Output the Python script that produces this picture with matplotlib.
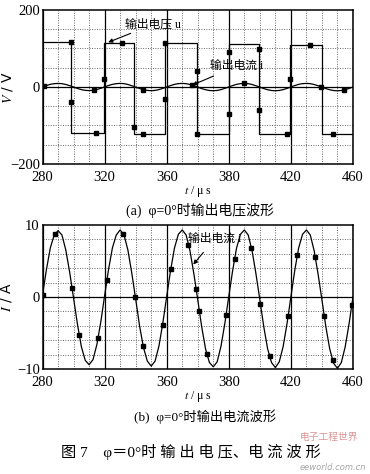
import matplotlib
matplotlib.use('Agg')
import matplotlib.pyplot as plt
import numpy as np

plt.rcParams['mathtext.fontset'] = 'stix'
serif_cjk = ['Liberation Serif', 'Noto Sans CJK SC']

# time axis (us), 2.5 us steps for the current trace
t = np.arange(280, 480.1, 2.5)
current = [
    0.3, 3.8, 6.8, 8.6, 9.2, 8.6, 6.5, 3.4, -0.2, -3.8, -6.9, -8.8, -9.4, -8.7, -6.6, -3.5,
    0.2, 3.8, 6.8, 8.6, 9.3, 8.6, 6.5, 3.3, -0.3, -4.0, -7.0, -8.9, -9.6, -8.9, -6.8, -3.6,
    0.1, 3.7, 6.8, 8.7, 9.3, 8.6, 6.4, 3.2, -0.4, -4.1, -7.2, -9.1, -9.7, -9.0, -6.8, -3.6,
    0.1, 3.7, 6.8, 8.7, 9.3, 8.6, 6.4, 3.2, -0.4, -4.1, -7.2, -9.1, -9.8, -9.0, -6.9, -3.7,
    0.0, 3.7, 6.8, 8.7, 9.3, 8.6, 6.4, 3.2, -0.4, -4.1, -7.2, -9.2, -9.9, -9.1, -6.9, -3.7,
    0.0,
]

# square-wave output voltage: switching instants and levels
v_switch = [280, 298.4, 319.5, 338.6, 359, 379.5, 400.3, 419.3, 439.4, 459.8, 480]
v_level = [116, -120, 113, -121, 113, -122, 111, -123, 110, -123, -123]

# marker squares
vmark_t = [298.4, 298.4, 314.5, 319.5, 331, 338.6, 344.5, 359, 359, 379.5, 379.5,
           400.3, 400.3, 419.3, 419.3, 437.5, 439.4, 452, 467]
vmark_v = [116, -40, -120, 21, 113, -104, -121, 113, -30, 41, -121,
           90, -69, 99, -60, -123, 21, 110, -123]
imark_top_t = [281, 313, 345, 376, 410, 459.7, 474]
imark_t = [280, 288, 299, 303.7, 315.7, 321.5, 331.9, 339.8, 344.8, 357.3, 362.7, 374,
           379, 381, 385.9, 398.2, 403.8, 414.6, 420.4, 426.3, 438.2, 444.2, 455.7,
           461.5, 466.9, 479.2]

xticks = [280, 320, 360, 400, 440, 480]
xticklabels = ['280', '320', '360', '380', '420', '460']

fig = plt.figure(figsize=(3.7, 4.74), dpi=100)
ax1 = fig.add_axes([0.115, 0.654, 0.839, 0.325])
ax2 = fig.add_axes([0.115, 0.2215, 0.839, 0.304])


def style(ax, ylim, ystep, yticks):
    ax.set_xlim(280, 480)
    ax.set_ylim(*ylim)
    ax.set_xticks(xticks)
    ax.set_xticklabels(xticklabels)
    ax.set_xticks(np.arange(280, 481, 10), minor=True)
    ax.set_yticks(yticks)
    ax.set_yticks(np.arange(ylim[0], ylim[1] + 0.01, ystep), minor=True)
    ax.grid(which='minor', ls=(0, (1, 1.5)), color='0.4', lw=0.7)
    ax.grid(which='major', axis='x', ls='-', color='k', lw=0.9)
    ax.axhline(0, color='k', lw=0.9)
    ax.tick_params(which='both', length=0, labelsize=10.5)
    ax.tick_params(axis='x', pad=5)
    ax.tick_params(axis='y', pad=2)
    for lab in ax.get_xticklabels() + ax.get_yticklabels():
        lab.set_family('Liberation Serif')
    for s in ax.spines.values():
        s.set_linewidth(1.1)
    ax.set_axisbelow(True)


# (a) voltage + current
style(ax1, (-200, 200), 50, [-200, 0, 200])
ax1.step(v_switch, v_level, where='post', color='k', lw=0.9)
ax1.plot(t, current, color='k', lw=0.9)
ax1.plot(vmark_t, vmark_v, 's', color='k', ms=2.8, ls='none')
ax1.plot(imark_top_t, np.interp(imark_top_t, t, current), 's', color='k', ms=2.8, ls='none')
ax1.set_ylabel('$V$ / V', fontsize=10, labelpad=-4)
ax1.set_xlabel('$t$ / μ s', fontsize=8.5, family='Liberation Serif', labelpad=0)
ax1.annotate('输出电压 u', xy=(322.3, 116), xytext=(333, 162), fontsize=8.5, family=serif_cjk,
             va='center', arrowprops=dict(arrowstyle='-|>', color='k', lw=0.8,
                                          mutation_scale=6, shrinkA=0, shrinkB=0))
ax1.annotate('输出电流 i', xy=(376.5, 5), xytext=(388, 54), fontsize=8.5, family=serif_cjk,
             va='center', arrowprops=dict(arrowstyle='-|>', color='k', lw=0.8,
                                          mutation_scale=6, shrinkA=2, shrinkB=0))

# (b) current
style(ax2, (-10, 10), 2, [-10, 0, 10])
ax2.plot(t, current, color='k', lw=0.9)
ax2.plot(imark_t, np.interp(imark_t, t, current), 's', color='k', ms=2.8, ls='none')
ax2.set_ylabel('$I$ / A', fontsize=10, labelpad=2)
ax2.set_xlabel('$t$ / μ s', fontsize=8.5, family='Liberation Serif', labelpad=0)
ax2.annotate('输出电流 i', xy=(377.1, 4.5), xytext=(373.5, 8.0), fontsize=8.5, family=serif_cjk,
             va='center', arrowprops=dict(arrowstyle='-|>', color='k', lw=0.8,
                                          mutation_scale=6, shrinkA=4, shrinkB=0))

# captions
fig.text(0.54, 1 - 210 / 474, '(a)  φ=0°时输出电压波形', ha='center', va='center',
         fontsize=10, family=serif_cjk)
fig.text(0.555, 1 - 417 / 474, '(b)  φ=0°时输出电流波形', ha='center', va='center',
         fontsize=9.5, family=serif_cjk)
fig.text(0.515, 1 - 452 / 474, '图 7    φ＝0°时 输 出 电 压、电 流 波 形', ha='center',
         va='center', fontsize=11, family=serif_cjk)

# faint site watermark, kept clear of the caption line
fig.text(0.89, 1 - 437 / 474, '电子工程世界', ha='center', va='center', fontsize=7,
         family=serif_cjk, color='#c05050', alpha=0.6)
fig.text(0.9, 1 - 467 / 474, 'eeworld.com.cn', ha='center', va='center', fontsize=6,
         family='DejaVu Sans', color='#808080', alpha=0.7, style='italic')

fig.savefig('out.png', dpi=100)
